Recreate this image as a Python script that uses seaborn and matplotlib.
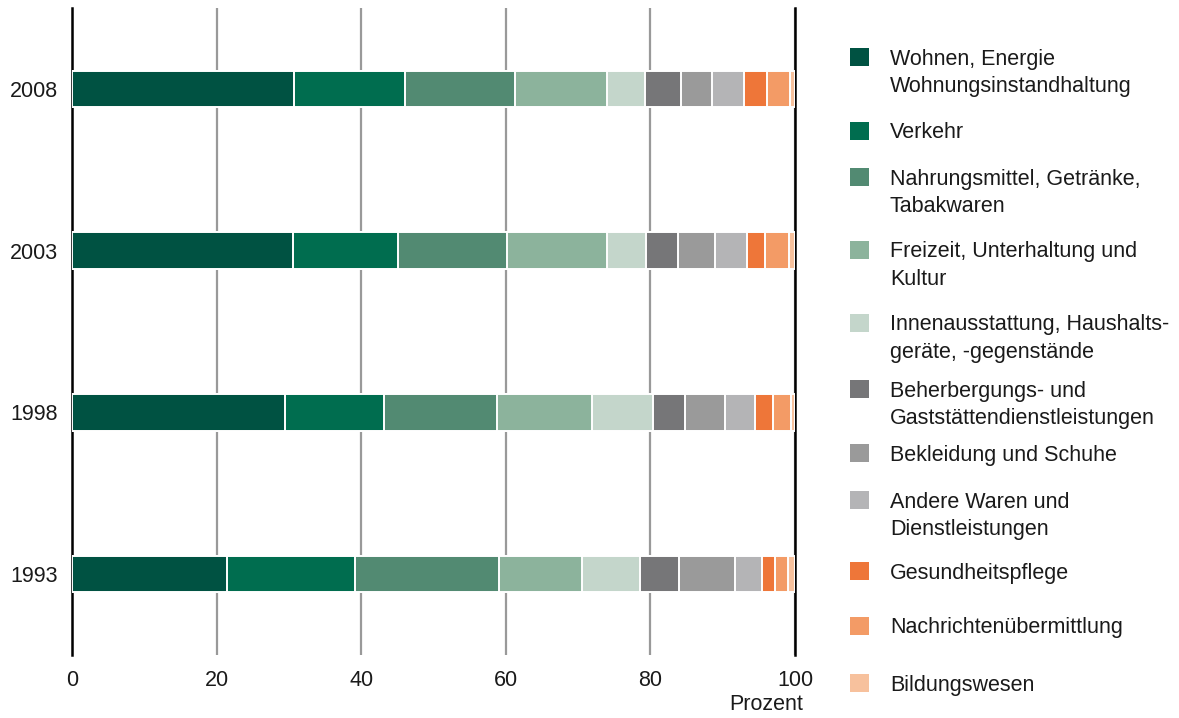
import pandas as pd
import seaborn as sns
import matplotlib.pyplot as plt
from matplotlib.patches import Rectangle

# ------------------------------ Daten ------------------------------ #
jahre = ['2008', '2003', '1998', '1993']

kategorien = [
    'Wohnen, Energie\nWohnungsinstandhaltung',
    'Verkehr',
    'Nahrungsmittel, Getränke,\nTabakwaren',
    'Freizeit, Unterhaltung und\nKultur',
    'Innenausstattung, Haushalts-\ngeräte, -gegenstände',
    'Beherbergungs- und\nGaststättendienstleistungen',
    'Bekleidung und Schuhe',
    'Andere Waren und\nDienstleistungen',
    'Gesundheitspflege',
    'Nachrichtenübermittlung',
    'Bildungswesen',
]

# Anteile in Prozent, Reihenfolge wie jahre
wohnen = [30.7, 30.6, 29.5, 21.4]
verkehr = [15.4, 14.5, 13.6, 17.7]
nahrung = [15.2, 15.0, 15.7, 20.0]
freizeit = [12.7, 13.9, 13.1, 11.5]
innen = [5.3, 5.4, 8.4, 8.0]
beherbergung = [4.9, 4.4, 4.5, 5.4]
bekleidung = [4.3, 5.1, 5.5, 7.7]
andere = [4.4, 4.4, 4.1, 3.8]
gesundheit = [3.2, 2.6, 2.6, 1.8]
nachrichten = [3.2, 3.3, 2.4, 1.8]
bildung = [0.7, 0.8, 0.6, 0.9]

farben = ['#005242', '#006D4F', '#528A72', '#8CB39C', '#C4D6CB',
          '#767678', '#9A9A9A', '#B4B4B6', '#EE7639', '#F39B66', '#F7C19D']

werte = [wohnen, verkehr, nahrung, freizeit, innen, beherbergung,
         bekleidung, andere, gesundheit, nachrichten, bildung]

# --------------------- Tabelle + kumulierte Summen --------------------- #
zeilen = []
for kat, reihe in zip(kategorien, werte):
    for jahr, v in zip(jahre, reihe):
        zeilen.append({'kategorie': kat, 'jahr': jahr, 'anteil': v})
df = pd.DataFrame(zeilen)
df['kum'] = df.groupby('jahr')['anteil'].cumsum()

# ------------------------------ Grafik ------------------------------ #
sns.set_style('white')
plt.rcParams['font.family'] = ['Liberation Sans', 'DejaVu Sans']
plt.rcParams['font.size'] = 15.5

fig = plt.figure(figsize=(11.79, 7.18), dpi=100)
ax = fig.add_axes([72 / 1179, 1 - 655 / 718, (795 - 72) / 1179, (655 - 8) / 718])

# gestapelt: laengste (kumulierte) Balken zuerst zeichnen
for kat, farbe in reversed(list(zip(kategorien, farben))):
    sns.barplot(data=df[df['kategorie'] == kat], x='kum', y='jahr', order=jahre,
                color=farbe, saturation=1, width=0.225, orient='h',
                edgecolor='white', linewidth=1.4, ax=ax, zorder=3)

ax.set_xlim(0, 100)
ax.set_ylim(3.5, -0.5)
ax.set_xticks([0, 20, 40, 60, 80, 100])
ax.grid(axis='x', color='#999999', linewidth=1.6, zorder=0)
ax.grid(axis='y', visible=False)
ax.set_axisbelow(True)
ax.tick_params(axis='both', length=0, labelsize=15.5, colors='#1a1a1a')
ax.tick_params(axis='x', pad=11)
ax.tick_params(axis='y', pad=10)
ax.set_xlabel('')
ax.set_ylabel('')
for s in ['top', 'bottom']:
    ax.spines[s].set_visible(False)
for s in ['left', 'right']:
    ax.spines[s].set_color('black')
    ax.spines[s].set_linewidth(1.8)

fig.text(803 / 1179, 1 - 705 / 718, 'Prozent', ha='right', va='center',
         fontsize=15.5, color='#1a1a1a')

# ------------------------------ Legende ------------------------------ #
legende_y = [57, 131, 177, 250, 323, 389, 453, 500, 571, 626, 683]
zeilenabstand = 27.5
for kat, farbe, yp in zip(kategorien, farben, legende_y):
    fig.add_artist(Rectangle((850 / 1179, 1 - (yp + 9) / 718), 19 / 1179, 18 / 718,
                             transform=fig.transFigure, facecolor=farbe,
                             edgecolor='none'))
    for i, zeile in enumerate(kat.split('\n')):
        fig.text(890 / 1179, 1 - (yp + 7.5 + i * zeilenabstand) / 718, zeile,
                 ha='left', va='baseline', fontsize=15.5, color='#1a1a1a')

plt.savefig('out.png', dpi=100)
